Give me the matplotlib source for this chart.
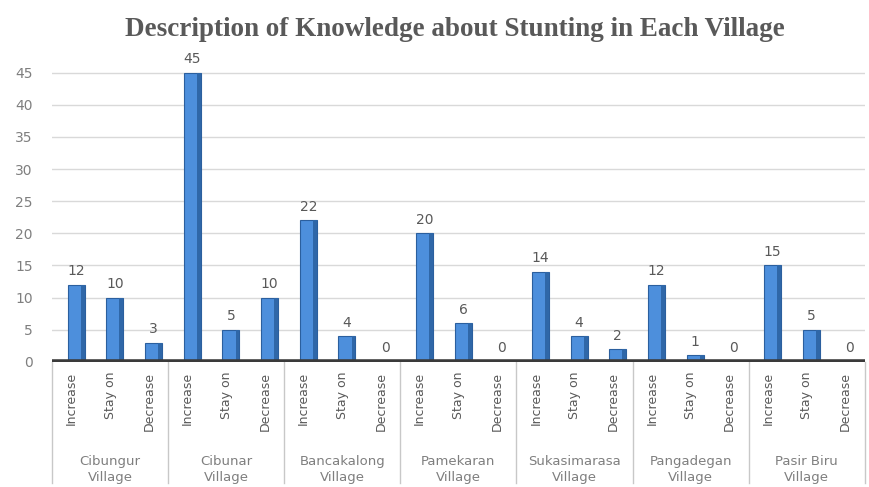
import numpy as np
import matplotlib.pyplot as plt

villages = ["Cibungur\nVillage", "Cibunar\nVillage", "Bancakalong\nVillage", "Pamekaran\nVillage",
            "Sukasimarasa\nVillage", "Pangadegan\nVillage", "Pasir Biru\nVillage"]
levels = ["Increase", "Stay on", "Decrease"]
increase = [12, 45, 22, 20, 14, 12, 15]
stay_on = [10, 5, 4, 6, 4, 1, 5]
decrease = [3, 10, 0, 0, 2, 0, 0]

values = []
labels = []
for i in range(len(villages)):
    values += [increase[i], stay_on[i], decrease[i]]
    labels += levels
x = np.arange(len(values))
xb = x + 0.12  # bars sit a little right of the slot centre (3D depth)

fig = plt.figure(figsize=(8.69, 4.87), dpi=100)
ax = fig.add_axes([0.06, 0.257, 0.935, 0.607])

# bars with a darker side to hint at the 3D look
ax.bar(xb, values, width=0.44, color="#4d8fdc", edgecolor="#2b5f9e", linewidth=0.8, zorder=3)
ax.bar(xb + 0.17, values, width=0.1, color="#2f67a8", linewidth=0, zorder=4)

for xi, v in zip(xb, values):
    ax.text(xi, v + 1.0, str(v), ha="center", va="bottom", fontsize=10, color="#595959")

# dark floor
ax.axhline(0, color="#3a3a3a", linewidth=4, zorder=5)

ax.set_xlim(-0.5, len(values) - 0.5)
ax.set_ylim(0, 46)
ax.set_yticks(range(0, 50, 5))
ax.tick_params(axis="y", length=0, labelsize=10, labelcolor="#7f7f7f", pad=14)
ax.grid(axis="y", color="#d9d9d9", linewidth=1, zorder=0)
for s in ax.spines.values():
    s.set_visible(False)

ax.set_xticks(x)
ax.set_xticklabels(labels, rotation=90, fontsize=9, color="#595959")
ax.tick_params(axis="x", length=0, pad=7)

# group separators and village names below the axis
trans = ax.get_xaxis_transform()
for b in np.arange(-0.5, len(values), 3):
    ax.plot([b, b], [0, -0.41], color="#c8c8c8", linewidth=1, transform=trans, clip_on=False)
for i, name in enumerate(villages):
    ax.text(3 * i + 1, -0.315, name, transform=trans, ha="center", va="top",
            fontsize=9.5, color="#7f7f7f", linespacing=1.3)

fig.text(0.524, 0.94, "Description of Knowledge about Stunting in Each Village",
         ha="center", va="center", fontsize=19.5, fontweight="bold",
         family="Liberation Serif", color="#595959")

fig.savefig("out.png", dpi=100)
